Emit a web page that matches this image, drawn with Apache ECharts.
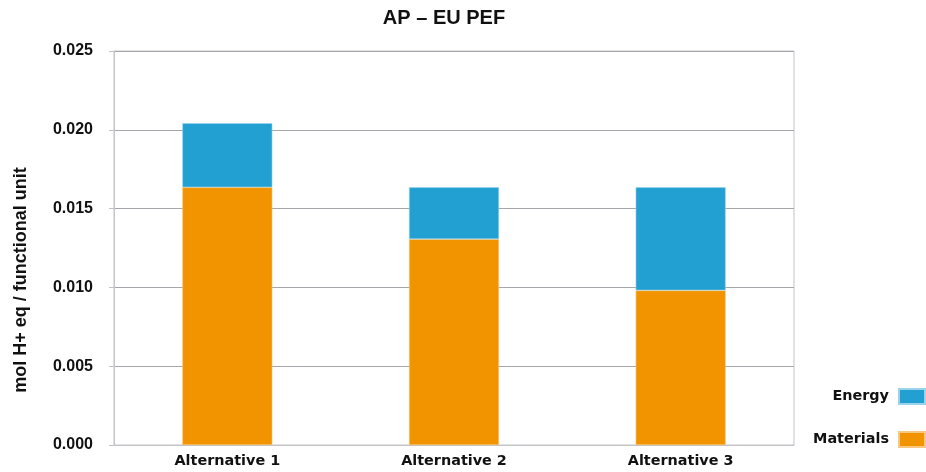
<!DOCTYPE html>
<html>
<head>
<meta charset="utf-8">
<script src="https://cdn.jsdelivr.net/npm/echarts@6/dist/echarts.min.js"></script>
<style>html,body{margin:0;padding:0;background:#fff;}#c{width:926px;height:472px;}</style>
</head>
<body>
<div id="c"></div>
<script>
var categories = ['Alternative 1', 'Alternative 2', 'Alternative 3'];
var materials = [0.01635, 0.01306, 0.00981];
var energy = [0.00407, 0.00329, 0.00654];
var yTicks = [0, 0.005, 0.010, 0.015, 0.020, 0.025];

var chart = echarts.init(document.getElementById('c'));
chart.setOption({
  animation: false,
  backgroundColor: '#fff',
  title: {
    text: 'AP \u2013 EU PEF',
    left: 439, top: 3, textAlign: 'center',
    textStyle: {fontFamily: 'Liberation Sans', fontWeight: 'bold', fontSize: 20, color: '#111'}
  },
  grid: {left: 114, right: 132, top: 51, bottom: 27, show: true, borderColor: '#c4c4c8', borderWidth: 1, containLabel: false},
  legend: {
    orient: 'vertical', right: 0, top: 388, align: 'right', itemWidth: 26, itemHeight: 15, itemGap: 26,
    padding: 0,
    data: ['Energy', 'Materials'],
    textStyle: {fontFamily: 'DejaVu Sans', fontWeight: 'bold', fontSize: 14.4, color: '#111', padding: [0, 5, 0, 0]},
    icon: 'rect'
  },
  graphic: [{
    type: 'text', rotation: Math.PI / 2, x: 21, y: 280,
    style: {text: 'mol H+ eq / functional unit', font: 'bold 18px "Liberation Sans"', fill: '#111', textAlign: 'center', textVerticalAlign: 'middle'}
  }],
  xAxis: {
    type: 'category', data: categories,
    axisLine: {lineStyle: {color: '#c4c4c8'}},
    axisTick: {show: false},
    axisLabel: {fontFamily: 'DejaVu Sans', fontWeight: 'bold', fontSize: 14.4, color: '#111', margin: 9}
  },
  yAxis: {
    type: 'value', min: 0, max: 0.025, interval: 0.005,
    axisLine: {show: true, lineStyle: {color: '#c4c4c8'}},
    axisTick: {show: true, length: 5, lineStyle: {color: '#c4c4c8'}},
    splitLine: {lineStyle: {color: '#a6a6ac', width: 1.2}},
    axisLabel: {
      fontFamily: 'Liberation Sans', fontWeight: 'bold', fontSize: 16, color: '#111', margin: 21,
      formatter: function (v) { return v.toFixed(3); }
    }
  },
  series: [
    {name: 'Materials', type: 'bar', stack: 't', data: materials, barWidth: 90,
      itemStyle: {color: '#f29400', borderColor: '#f8c880', borderWidth: 0.6}},
    {name: 'Energy', type: 'bar', stack: 't', data: energy, barWidth: 90,
      itemStyle: {color: '#22a0d2', borderColor: '#9ad3ea', borderWidth: 0.6}}
  ]
});
</script>
</body>
</html>
